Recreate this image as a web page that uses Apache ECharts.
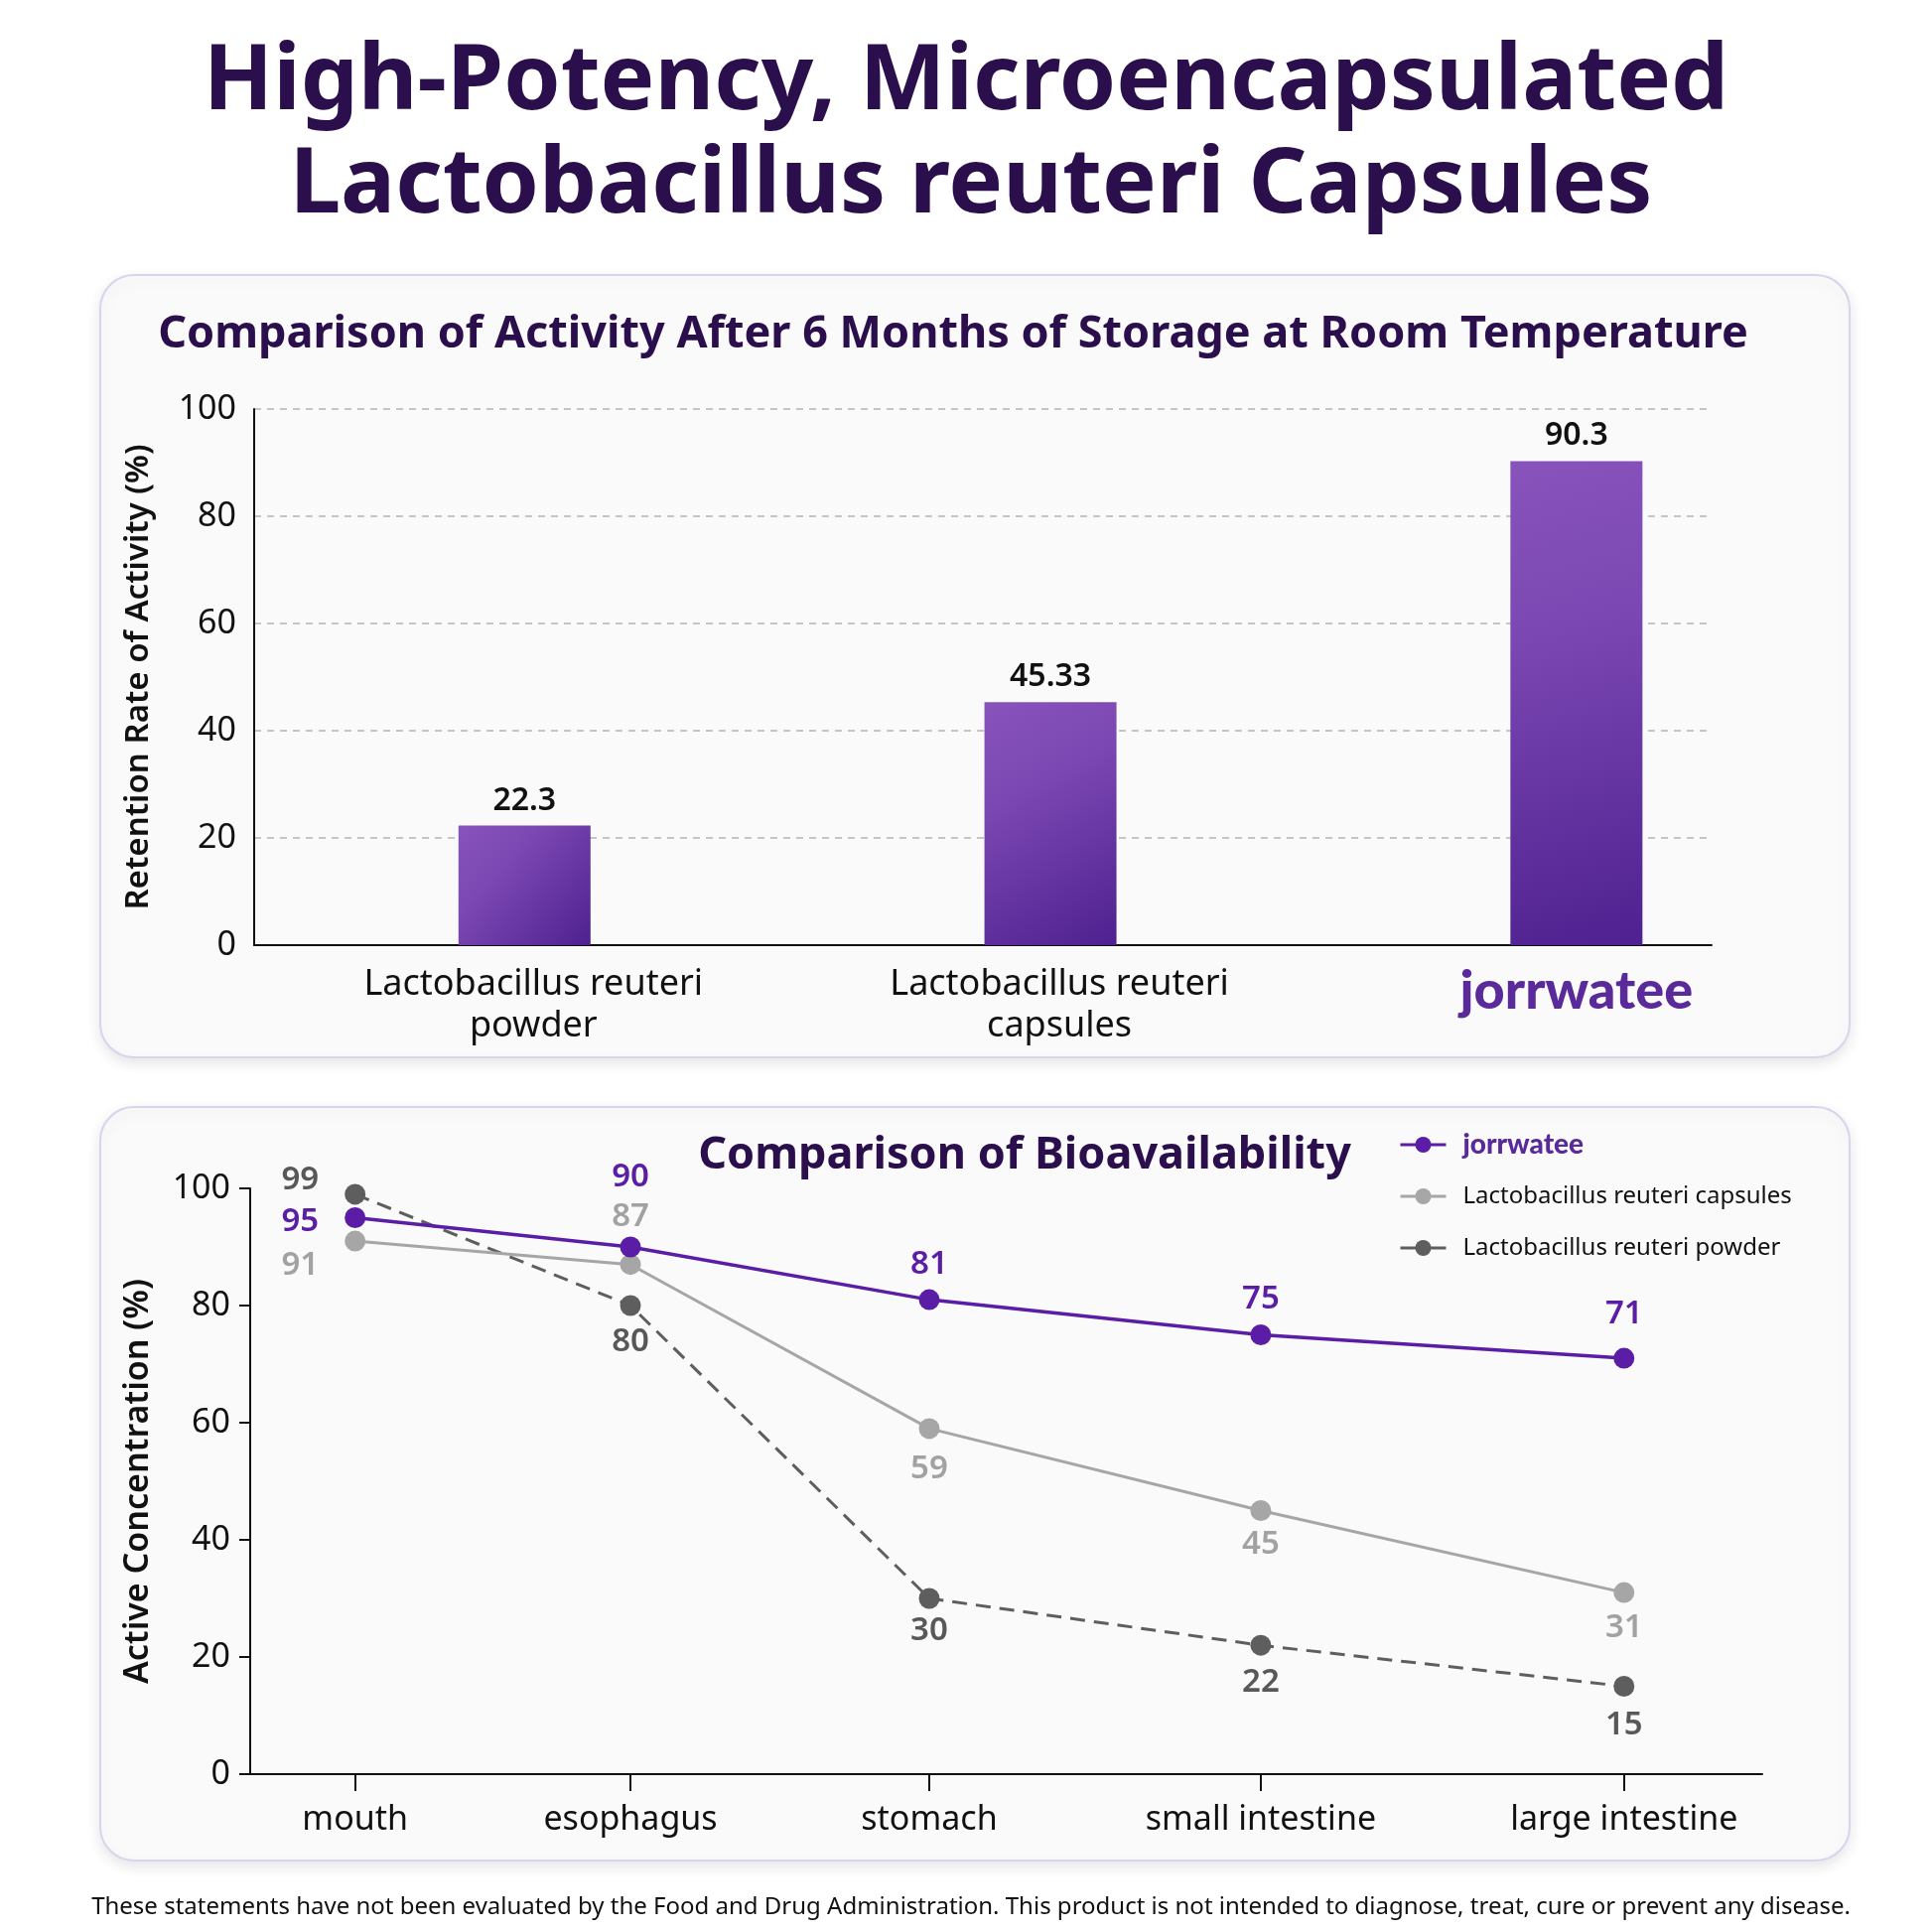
<!DOCTYPE html>
<html><head><meta charset="utf-8">
<script src="https://cdn.jsdelivr.net/npm/echarts@6/dist/echarts.min.js"></script>
<style>html,body{margin:0;padding:0;background:#fff}#c{width:1946px;height:1946px}</style>
</head><body><div id="c"></div>
<script>
// ---------- data ----------
const mainTitle = ['High-Potency, Microencapsulated', 'Lactobacillus reuteri Capsules'];
const barTitle = 'Comparison of Activity After 6 Months of Storage at Room Temperature';
const barCategories = ['Lactobacillus reuteri\npowder', 'Lactobacillus reuteri\ncapsules', 'jorrwatee'];
const barPositions = [0, 1, 2];
const barValues = [22.3, 45.33, 90.3];
const barYName = 'Retention Rate of Activity (%)';

const lineTitle = 'Comparison of Bioavailability';
const stages = ['mouth', 'esophagus', 'stomach', 'small intestine', 'large intestine'];
const stagePositions = [0, 1, 2.085, 3.289, 4.608];
const seriesNames = ['jorrwatee', 'Lactobacillus reuteri capsules', 'Lactobacillus reuteri powder'];
const jorrwateeValues = [95, 90, 81, 75, 71];
const capsuleValues = [91, 87, 59, 45, 31];
const powderValues = [99, 80, 30, 22, 15];
const lineYName = 'Active Concentration (%)';

const footerText = 'These statements have not been evaluated by the Food and Drug Administration. This product is not intended to diagnose, treat, cure or prevent any disease.';

// ---------- styling / layout (not data) ----------
const FONT = '"Noto Sans", "DejaVu Sans", sans-serif';
const TITLE_COLOR = '#2b0f4c';
const PURPLE = '#5b1ca6';
const LIGHT_GRAY = '#a6a6a6';
const DARK_GRAY = '#5e5e5e';
const LOGO_COLOR = '#5a2a9a';

const labelPlacement = {
  jorrwatee: [
    {position: 'left', distance: 26, offset: [0, 4]},
    {position: 'top', distance: 43},
    {position: 'top', distance: 9},
    {position: 'top', distance: 9},
    {position: 'top', distance: 18}
  ],
  capsules: [
    {position: 'left', distance: 26, offset: [0, 24]},
    {position: 'top', distance: 21},
    {position: 'bottom', distance: 14},
    {position: 'bottom', distance: 7},
    {position: 'bottom', distance: 8}
  ],
  powder: [
    {position: 'left', distance: 26, offset: [0, -14]},
    {position: 'bottom', distance: 10},
    {position: 'bottom', distance: 6},
    {position: 'bottom', distance: 10},
    {position: 'bottom', distance: 12}
  ]
};

function buildLineData(values, placement) {
  return values.map((v, i) => ({
    value: [stagePositions[i], v],
    label: Object.assign({}, placement[i])
  }));
}

const axisRich = {
  logo: {fontFamily: 'Lato, ' + FONT, fontWeight: 900, fontSize: 54, color: LOGO_COLOR, lineHeight: 56},
  c: {fontFamily: FONT, fontSize: 36, color: '#111', lineHeight: 42, padding: [0, 0, 0, 18]}
};

const chart = echarts.init(document.getElementById('c'), null, {renderer: 'canvas'});

const option = {
  backgroundColor: '#ffffff',
  animation: false,
  textStyle: {fontFamily: FONT},
  graphic: [
    {type: 'rect', z: -10, shape: {x: 101, y: 277, width: 1762, height: 788, r: 34},
      style: {fill: '#fafafa', stroke: '#d8d4ee', lineWidth: 2, shadowBlur: 14, shadowOffsetY: 5, shadowColor: 'rgba(0,0,0,0.10)'}},
    {type: 'rect', z: -10, shape: {x: 101, y: 1115, width: 1762, height: 759, r: 34},
      style: {fill: '#fafafa', stroke: '#d8d4ee', lineWidth: 2, shadowBlur: 14, shadowOffsetY: 5, shadowColor: 'rgba(0,0,0,0.10)'}},
    {type: 'text', z: 10, style: {text: mainTitle[0], x: 973, y: 84, align: 'center', verticalAlign: 'middle',
      fontFamily: FONT, fontWeight: 'bold', fontSize: 92, fill: TITLE_COLOR}},
    {type: 'text', z: 10, style: {text: mainTitle[1], x: 978, y: 188, align: 'center', verticalAlign: 'middle',
      fontFamily: FONT, fontWeight: 'bold', fontSize: 92, fill: TITLE_COLOR}},
    {type: 'text', z: 10, style: {text: barTitle, x: 960, y: 337, align: 'center', verticalAlign: 'middle',
      fontFamily: FONT, fontWeight: 'bold', fontSize: 45, fill: TITLE_COLOR}},
    {type: 'text', z: 10, style: {text: lineTitle, x: 1032, y: 1164, align: 'center', verticalAlign: 'middle',
      fontFamily: FONT, fontWeight: 'bold', fontSize: 45, fill: TITLE_COLOR}},
    {type: 'text', z: 10, style: {text: footerText, x: 978, y: 1921, align: 'center', verticalAlign: 'middle',
      fontFamily: FONT, fontSize: 24, fill: '#111111'}}
  ],
  legend: {
    orient: 'vertical', left: 1409, top: 1139, itemWidth: 46, itemHeight: 20, itemGap: 24, padding: 0,
    data: seriesNames,
    lineStyle: {type: 'solid', width: 3},
    formatter: name => name === 'jorrwatee' ? '{logo|jorrwatee}' : '{t|' + name + '}',
    textStyle: {
      color: '#111', fontFamily: FONT, fontSize: 24, lineHeight: 28,
      rich: {
        t: {fontFamily: FONT, fontSize: 24, color: '#111', padding: [0, 0, 0, 12], lineHeight: 28},
        logo: {fontFamily: 'Lato, ' + FONT, fontWeight: 900, fontSize: 28, color: LOGO_COLOR, padding: [0, 0, 0, 12], lineHeight: 28}
      }
    }
  },
  grid: [
    {left: 256, right: 222, top: 412, bottom: 994},
    {left: 252, right: 171, top: 1197, bottom: 159}
  ],
  xAxis: [
    {
      gridIndex: 0, type: 'value', min: -0.514, max: 2.257,
      axisLine: {show: true, onZero: false, lineStyle: {color: '#111', width: 2}},
      axisTick: {show: false},
      splitLine: {show: false},
      axisLabel: {
        customValues: barPositions,
        margin: 19,
        color: '#111', fontFamily: FONT, fontSize: 36, lineHeight: 42,
        formatter: v => {
          const i = barPositions.indexOf(v);
          if (i < 0) return '';
          if (barCategories[i] === 'jorrwatee') return '{logo|jorrwatee}';
          return barCategories[i].split('\n').map(s => '{c|' + s + '}').join('\n');
        },
        rich: axisRich
      }
    },
    {
      gridIndex: 1, type: 'value', min: -0.381, max: 5.11,
      axisLine: {show: true, onZero: false, lineStyle: {color: '#111', width: 2}},
      axisTick: {show: true, customValues: stagePositions, length: 17, lineStyle: {color: '#111', width: 2}},
      splitLine: {show: false},
      axisLabel: {
        customValues: stagePositions,
        margin: 29,
        color: '#111', fontFamily: FONT, fontSize: 34,
        formatter: v => {
          const i = stagePositions.indexOf(v);
          return i < 0 ? '' : stages[i];
        }
      }
    }
  ],
  yAxis: [
    {
      gridIndex: 0, type: 'value', min: 0, max: 100, interval: 20,
      name: barYName, nameLocation: 'middle', nameGap: 100,
      nameTextStyle: {color: '#111', fontFamily: FONT, fontSize: 33, fontWeight: 600},
      axisLine: {show: true, onZero: false, lineStyle: {color: '#111', width: 2}},
      axisTick: {show: false},
      axisLabel: {color: '#111', fontFamily: FONT, fontSize: 34, margin: 18},
      splitLine: {show: true, lineStyle: {color: '#b4b4b4', width: 1.5, type: [7, 6]}}
    },
    {
      gridIndex: 1, type: 'value', min: 0, max: 100, interval: 20,
      name: lineYName, nameLocation: 'middle', nameGap: 96,
      nameTextStyle: {color: '#111', fontFamily: FONT, fontSize: 34, fontWeight: 600},
      axisLine: {show: true, onZero: false, lineStyle: {color: '#111', width: 2}},
      axisTick: {show: true, length: 11, lineStyle: {color: '#111', width: 2}},
      axisLabel: {color: '#111', fontFamily: FONT, fontSize: 34, margin: 20},
      splitLine: {show: false}
    }
  ],
  series: [
    {
      type: 'bar', xAxisIndex: 0, yAxisIndex: 0,
      barWidth: 133,
      data: barPositions.map((x, i) => [x, barValues[i]]),
      itemStyle: {
        color: new echarts.graphic.LinearGradient(0, 0, 1, 1, [
          {offset: 0, color: '#8853bb'},
          {offset: 0.35, color: '#7b47b2'},
          {offset: 1, color: '#4e2190'}
        ])
      },
      label: {
        show: true, position: 'top', distance: 9,
        color: '#111', fontFamily: FONT, fontSize: 32, fontWeight: 600,
        formatter: p => String(p.value[1])
      }
    },
    {
      name: seriesNames[2], type: 'line', xAxisIndex: 1, yAxisIndex: 1, z: 2,
      data: buildLineData(powderValues, labelPlacement.powder),
      symbol: 'circle', symbolSize: 21,
      itemStyle: {color: DARK_GRAY},
      lineStyle: {color: DARK_GRAY, width: 3, type: [15, 9]},
      label: {show: true, color: '#585858', fontFamily: FONT, fontSize: 33, fontWeight: 600,
        formatter: p => String(p.value[1])}
    },
    {
      name: seriesNames[1], type: 'line', xAxisIndex: 1, yAxisIndex: 1, z: 3,
      data: buildLineData(capsuleValues, labelPlacement.capsules),
      symbol: 'circle', symbolSize: 21,
      itemStyle: {color: LIGHT_GRAY},
      lineStyle: {color: LIGHT_GRAY, width: 3},
      label: {show: true, color: '#a2a2a2', fontFamily: FONT, fontSize: 33, fontWeight: 600,
        formatter: p => String(p.value[1])}
    },
    {
      name: seriesNames[0], type: 'line', xAxisIndex: 1, yAxisIndex: 1, z: 4,
      data: buildLineData(jorrwateeValues, labelPlacement.jorrwatee),
      symbol: 'circle', symbolSize: 21,
      itemStyle: {color: PURPLE},
      lineStyle: {color: PURPLE, width: 3.5},
      label: {show: true, color: PURPLE, fontFamily: FONT, fontSize: 33, fontWeight: 600,
        formatter: p => String(p.value[1])}
    }
  ]
};
chart.setOption(option);
</script>
</body></html>
